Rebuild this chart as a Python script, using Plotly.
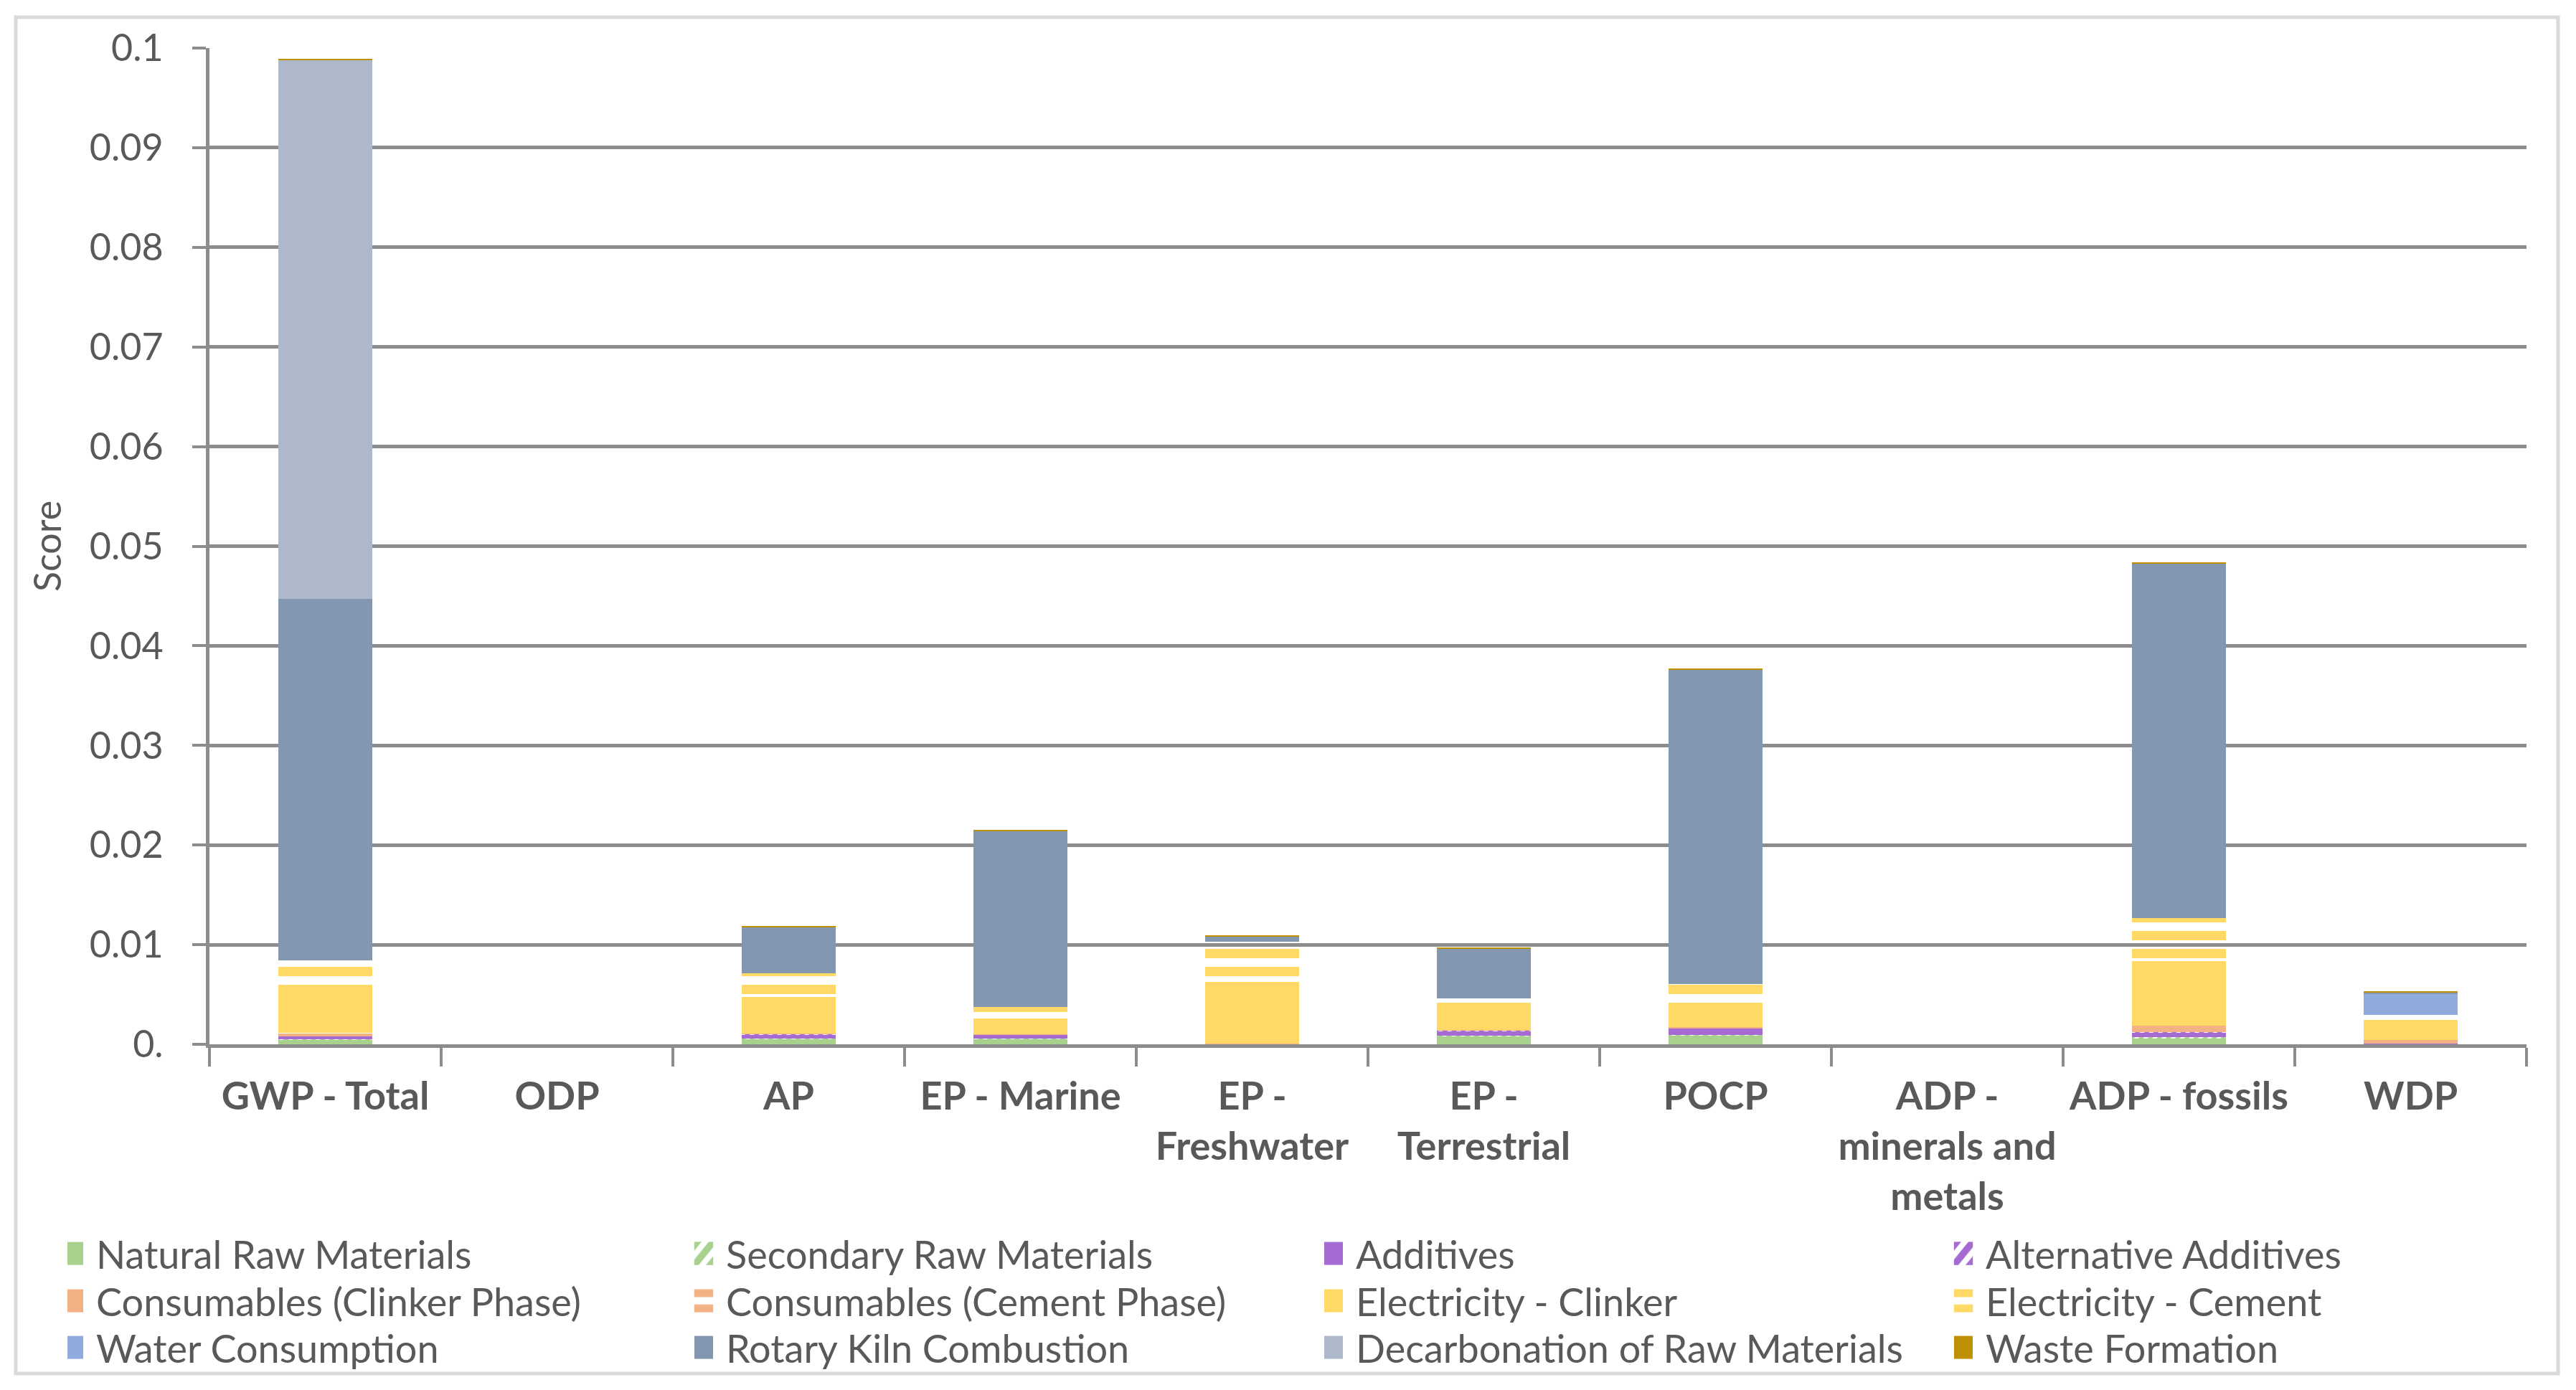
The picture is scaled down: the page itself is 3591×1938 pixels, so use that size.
import plotly.graph_objects as go

# ---- data ----
categories = ["GWP - Total", "ODP", "AP", "EP - Marine", "EP - Freshwater",
              "EP - Terrestrial", "POCP", "ADP - minerals and metals",
              "ADP - fossils", "WDP"]
tick_labels = ["GWP - Total", "ODP", "AP", "EP - Marine", "EP -<br>Freshwater",
               "EP -<br>Terrestrial", "POCP", "ADP -<br>minerals and<br>metals",
               "ADP - fossils", "WDP"]

natural_raw     = [0.00040, 0, 0.00047, 0.00054, 0.00003, 0.00076, 0.00083, 0, 0.00060, 0.00005]
secondary_raw   = [0.00014, 0, 0.00014, 0.00005, 0.00001, 0.00007, 0.00014, 0, 0.00014, 0.0]
additives       = [0.00022, 0, 0.00036, 0.00036, 0.00002, 0.00050, 0.00058, 0, 0.00043, 0.00001]
alt_additives   = [0.00002, 0, 0.00007, 0.00003, 0.0, 0.00004, 0.00007, 0, 0.00007, 0.0]
cons_clinker    = [0.00029, 0, 0.00003, 0.00002, 0.00001, 0.00002, 0.00007, 0, 0.00058, 0.00030]
cons_cement     = [0.00007, 0, 0.00004, 0.00004, 0.00001, 0.00004, 0.00003, 0, 0.00006, 0.00004]
elec_clinker    = [0.00446, 0, 0.00361, 0.00154, 0.00615, 0.00267, 0.00235, 0, 0.00644, 0.00208]
elec_cement     = [0.00279, 0, 0.00244, 0.00120, 0.00403, 0.00054, 0.00201, 0, 0.00432, 0.00044]
water           = [0.0, 0, 0.0, 0.0, 0.0, 0.0, 0.0, 0, 0.0, 0.00209]
kiln            = [0.03635, 0, 0.00461, 0.01764, 0.00060, 0.00497, 0.03152, 0, 0.03566, 0.00022]
decarbonation   = [0.05406, 0, 0.0, 0.0, 0.0, 0.0, 0.0, 0, 0.0, 0.0]
waste           = [0.00014, 0, 0.00014, 0.00014, 0.00007, 0.00014, 0.00010, 0, 0.00010, 0.00007]

y_tickvals = [0, 0.01, 0.02, 0.03, 0.04, 0.05, 0.06, 0.07, 0.08, 0.09, 0.1]
y_ticktext = ["0.", "0.01", "0.02", "0.03", "0.04", "0.05", "0.06", "0.07", "0.08", "0.09", "0.1"]

series = [
    ("Natural Raw Materials", natural_raw, "#A9D18E", None),
    ("Secondary Raw Materials", secondary_raw, "#A9D18E", "/"),
    ("Additives", additives, "#A66BD3", None),
    ("Alternative Additives", alt_additives, "#A66BD3", "/"),
    ("Consumables (Clinker Phase)", cons_clinker, "#F4B183", None),
    ("Consumables (Cement Phase)", cons_cement, "#F4B183", "-"),
    ("Electricity - Clinker", elec_clinker, "#FFD966", None),
    ("Electricity - Cement", elec_cement, "#FFD966", "-"),
    ("Water Consumption", water, "#8FAADC", None),
    ("Rotary Kiln Combustion", kiln, "#8497B0", None),
    ("Decarbonation of Raw Materials", decarbonation, "#ADB9CA", None),
    ("Waste Formation", waste, "#BF9000", None),
]

TXT = "#595959"
GRID = "#8C8C8C"
FONT = "Lato, Carlito, Calibri, sans-serif"
LEG_NAMES = ["legend", "legend2", "legend3"]

fig = go.Figure()
for i, (name, vals, color, pat) in enumerate(series):
    marker = dict(color=color, line=dict(width=0))
    if pat == "-":
        marker["pattern"] = dict(shape="-", fillmode="replace", size=25, solidity=0.52)
    elif pat == "/":
        marker["pattern"] = dict(shape="/", fillmode="replace", size=9, solidity=0.55)
    fig.add_trace(go.Bar(name=name, x=categories, y=vals, marker=marker,
                         legend=LEG_NAMES[i // 4]))

W, H = 3591, 1938
L, R, T, B = 292, 69, 67, 482
pw, ph = W - L - R, H - T - B

def px_x(p):
    return (p - L) / pw

def px_y(p):
    return (H - B - p) / ph

row_y = [1748, 1814, 1879]

def leg(yc):
    return dict(
        orientation="h",
        x=px_x(94), xanchor="left",
        y=px_y(yc), yanchor="middle",
        entrywidth=833, entrywidthmode="pixels",
        font=dict(family=FONT, size=54, color=TXT),
        traceorder="normal",
        itemwidth=30,
        bgcolor="rgba(0,0,0,0)",
    )

fig.update_layout(
    width=W, height=H,
    margin=dict(l=L, r=R, t=T, b=B, pad=0, autoexpand=False),
    barmode="stack",
    bargap=0.595,
    paper_bgcolor="white",
    plot_bgcolor="white",
    font=dict(family=FONT, color=TXT, size=48),
    showlegend=True,
    legend=leg(row_y[0]),
    legend2=leg(row_y[1]),
    legend3=leg(row_y[2]),
    shapes=[dict(
        type="rect", xref="paper", yref="paper",
        x0=px_x(22), x1=px_x(3566), y0=px_y(1915), y1=px_y(24),
        line=dict(color="#D9D9D9", width=5), fillcolor="rgba(0,0,0,0)", layer="below",
    )],
)

fig.update_xaxes(
    type="category",
    tickvals=categories, ticktext=["<b>" + t + "</b>" for t in tick_labels],
    tickfont=dict(family=FONT, size=54, color=TXT),
    showline=True, linecolor=GRID, linewidth=5,
    ticks="outside", tickson="boundaries", ticklen=26, tickwidth=4, tickcolor=GRID,
    showgrid=False, ticklabelstandoff=21,
)
fig.update_yaxes(
    range=[0, 0.1],
    tickvals=y_tickvals, ticktext=y_ticktext,
    tickfont=dict(family=FONT, size=52, color=TXT),
    showgrid=True, gridcolor=GRID, gridwidth=4.5,
    showline=True, linecolor=GRID, linewidth=5,
    ticks="outside", ticklen=19, tickwidth=4, tickcolor=GRID,
    ticklabelstandoff=30,
    zeroline=False,
    title=dict(text="Score", font=dict(family=FONT, size=52, color=TXT), standoff=24),
)

post = """
document.body.style.margin='0';
document.querySelectorAll('.legendpoints path').forEach(function(p){
  var f = (p.getAttribute('style') || '') + ' ' + (p.getAttribute('fill') || '');
  if (f.indexOf('url(') >= 0) {
    p.setAttribute('transform','translate(9,0) scale(2.2,2.7)');
  } else {
    p.removeAttribute('transform');
    p.setAttribute('d','M22,16H-4V-16H22Z');
  }
});
"""
fig.write_html("out.html", post_script=post, config={"displayModeBar": False})
